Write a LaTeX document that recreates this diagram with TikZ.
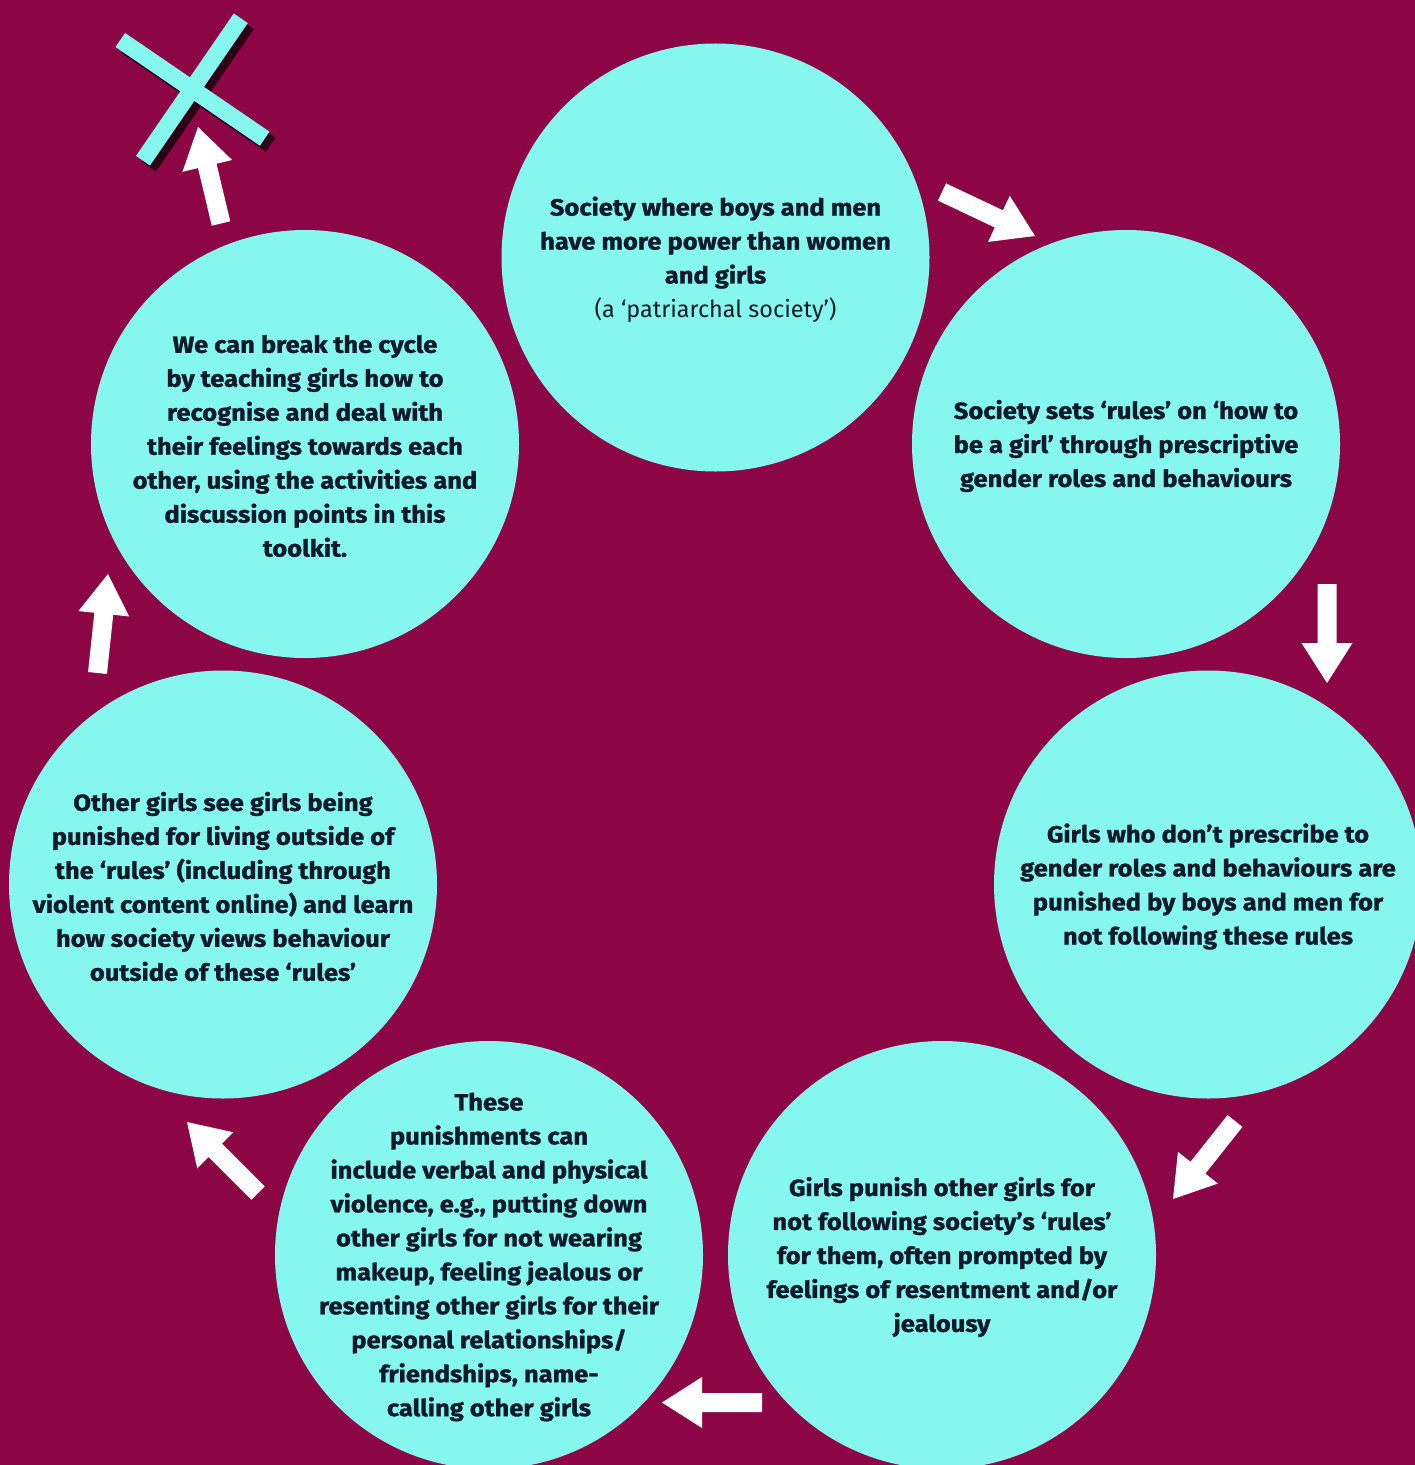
\documentclass[tikz,border=0pt]{standalone}
\usepackage{fontspec}
\setmainfont{Fira Sans}[BoldFeatures={FakeStretch=1.09, FakeBold=1.2}]
\usetikzlibrary{calc}
\definecolor{bg}{HTML}{8C0646}
\definecolor{cy}{HTML}{86F7EF}
\definecolor{ink}{HTML}{0E1A2B}
\definecolor{xshadow}{HTML}{2D0016}
\tikzset{
  bubble/.style={circle, fill=cy, minimum size=428bp, inner sep=0pt},
  txt/.style={text=ink, align=center, inner sep=0pt, yshift=-2bp,
    font=\fontsize{23.5}{34.1}\selectfont\bfseries},
  arrowfill/.style={fill=white},
  xbar/.style={line width=17bp, line cap=butt},
}
\newcommand\blockarrow[2]{%
  \coordinate (hb) at ($(#2)!40bp!(#1)$);
  \fill[arrowfill] ($(#1)!9.5bp!90:(#2)$) -- ($(hb)!9.5bp!90:(#2)$)
    -- ($(hb)!25.5bp!90:(#2)$) -- (#2) -- ($(hb)!25.5bp!-90:(#2)$)
    -- ($(hb)!9.5bp!-90:(#2)$) -- ($(#1)!9.5bp!-90:(#2)$) -- cycle;}
\begin{document}
\begin{tikzpicture}[x=1bp, y=-1bp]
\useasboundingbox (0,0) rectangle (1415,1465);
\fill[bg] (0,0) rectangle (1415,1465);

% circles
\node[bubble] (c1) at (715.5,257.5) {};
\node[bubble] (c2) at (1126,444) {};
\node[bubble] (c3) at (1208,884.5) {};
\node[bubble] (c4) at (942,1255) {};
\node[bubble] (c5) at (489,1255) {};
\node[bubble] (c6) at (223,884.5) {};
\node[bubble] (c7) at (305,444) {};

% texts
\node[txt] (t1) at (c1) {Society where boys and men\\have more power than women\\and girls\\{\mdseries (a ‘patriarchal society’)}};
\node[txt] (t2) at (c2) {Society sets ‘rules’ on ‘how to\\be a girl’ through prescriptive\\gender roles and behaviours};
\node[txt] (t3) at (c3) {Girls who don’t prescribe to\\gender roles and behaviours are\\punished by boys and men for\\not following these rules};
\node[txt] (t4) at (c4) {Girls punish other girls for\\not following society’s ‘rules’\\for them, often prompted by\\feelings of resentment and/or\\jealousy};
\node[txt] (t5) at (c5) {These\\punishments can\\include verbal and physical\\violence, e.g., putting down\\other girls for not wearing\\makeup, feeling jealous or\\resenting other girls for their\\personal relationships/\\friendships, name-\\calling other girls};
\node[txt] (t6) at (c6) {Other girls see girls being\\punished for living outside of\\the ‘rules’ (including through\\violent content online) and learn\\how society views behaviour\\outside of these ‘rules’};
\node[txt] (t7) at (c7) {We can break the cycle\\by teaching girls how to\\recognise and deal with\\their feelings towards each\\other, using the activities and\\discussion points in this\\toolkit.};

% arrow anchors
\coordinate (a1t) at (942,192);   \coordinate (a1h) at (1035,236);
\coordinate (a2t) at (1327,584);  \coordinate (a2h) at (1327,683);
\coordinate (a3t) at (1235,1121); \coordinate (a3h) at (1173,1199);
\coordinate (a4t) at (762,1402.5);\coordinate (a4h) at (662,1402.5);
\coordinate (a5t) at (258,1193);  \coordinate (a5h) at (187,1122);
\coordinate (a6t) at (97.5,673);  \coordinate (a6h) at (108,574);
\coordinate (a7t) at (221,223.5); \coordinate (a7h) at (198,127);
\blockarrow{a1t}{a1h}
\blockarrow{a2t}{a2h}
\blockarrow{a3t}{a3h}
\blockarrow{a4t}{a4h}
\blockarrow{a5t}{a5h}
\blockarrow{a6t}{a6h}
\blockarrow{a7t}{a7h}

% cross mark
\coordinate (xa1) at (120.3,40);  \coordinate (xa2) at (264.7,138.7);
\coordinate (xb1) at (143,160.7); \coordinate (xb2) at (240.8,18.3);
\draw[xbar, xshadow] ($(xa1)+(6,6)$) -- ($(xa2)+(6,6)$);
\draw[xbar, xshadow] ($(xb1)+(6,6)$) -- ($(xb2)+(6,6)$);
\draw[xbar, cy] (xa1) -- (xa2);
\draw[xbar, cy] (xb1) -- (xb2);
\end{tikzpicture}
\end{document}
